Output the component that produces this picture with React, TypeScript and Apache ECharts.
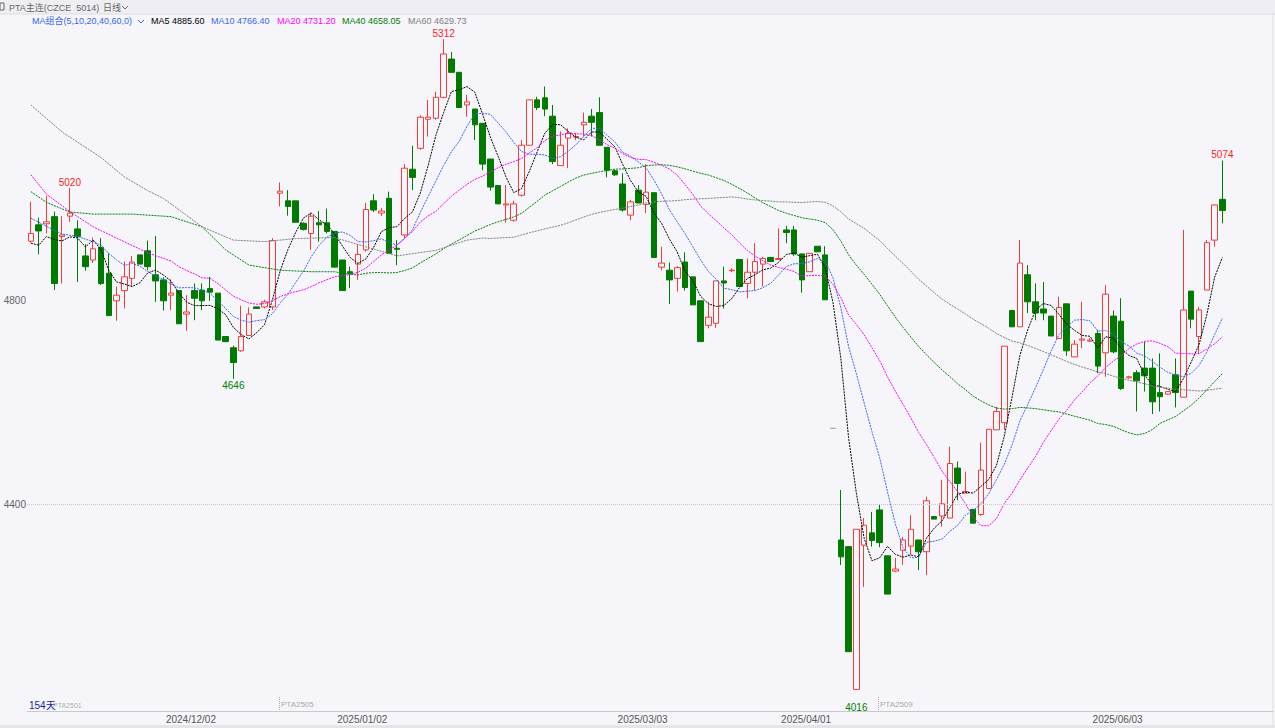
import React, { useEffect, useRef } from 'react';
import * as echarts from 'echarts';

// [open, close, low, high] per trading day
const CANDLES: number[][] = [
  [4916, 4931, 4913, 4993], [4948, 4936, 4890, 4962], [4950, 4954, 4931, 5005], [4964, 4833, 4820, 4974],
  [4925, 4928, 4833, 4965], [4965, 4971, 4954, 5020], [4940, 4925, 4836, 4957], [4887, 4866, 4858, 4910],
  [4879, 4901, 4873, 4923], [4904, 4833, 4830, 4922], [4853, 4770, 4770, 4892], [4799, 4810, 4760, 4827],
  [4819, 4846, 4784, 4876], [4843, 4875, 4827, 4887], [4889, 4871, 4871, 4889], [4897, 4866, 4859, 4917],
  [4850, 4838, 4797, 4926], [4840, 4799, 4780, 4845], [4810, 4814, 4781, 4841], [4819, 4754, 4754, 4820],
  [4773, 4777, 4740, 4810], [4819, 4804, 4761, 4833], [4820, 4799, 4781, 4833], [4823, 4816, 4799, 4846],
  [4814, 4722, 4722, 4814], [4729, 4719, 4718, 4729], [4707, 4678, 4646, 4711], [4701, 4729, 4699, 4789],
  [4731, 4773, 4731, 4786], [4787, 4784, 4784, 4787], [4787, 4797, 4784, 4801], [4787, 4917, 4781, 4922],
  [5010, 5014, 4984, 5031], [4995, 4984, 4966, 5016], [4995, 4953, 4953, 4995], [4951, 4939, 4937, 4953],
  [4931, 4965, 4899, 4972], [4952, 4948, 4915, 4975], [4952, 4935, 4931, 4980], [4935, 4865, 4865, 4935],
  [4879, 4819, 4819, 4879], [4856, 4853, 4824, 4866], [4871, 4890, 4840, 4910], [4899, 4978, 4895, 4991],
  [4995, 4977, 4973, 5008], [4971, 4975, 4965, 4981], [5000, 4892, 4892, 5013], [4902, 4900, 4869, 4918],
  [4928, 5059, 4922, 5067], [5057, 5041, 5016, 5103], [5098, 5159, 5095, 5163], [5155, 5159, 5121, 5193],
  [5157, 5198, 5154, 5209], [5198, 5283, 5196, 5312], [5273, 5247, 5247, 5287], [5247, 5178, 5178, 5247],
  [5183, 5189, 5160, 5203], [5175, 5144, 5114, 5175], [5147, 5067, 5055, 5147], [5077, 5022, 5015, 5077],
  [5025, 4989, 4989, 5025], [4987, 4989, 4952, 5026], [4957, 4989, 4954, 4995], [5006, 5104, 5003, 5114],
  [5104, 5193, 5104, 5193], [5193, 5178, 5173, 5199], [5197, 5175, 5161, 5219], [5161, 5072, 5067, 5183],
  [5064, 5104, 5064, 5131], [5118, 5127, 5059, 5137], [5120, 5121, 5114, 5128], [5144, 5149, 5121, 5168],
  [5161, 5149, 5121, 5175], [5168, 5104, 5104, 5198], [5100, 5055, 5041, 5100], [5054, 5046, 5044, 5056],
  [5028, 4977, 4974, 5049], [4967, 4993, 4957, 4997], [5016, 4991, 4990, 5026], [4988, 5012, 4971, 5067],
  [5011, 4884, 4884, 5011], [4865, 4873, 4859, 4905], [4859, 4840, 4793, 4874], [4843, 4864, 4817, 4867],
  [4875, 4825, 4819, 4894], [4846, 4791, 4791, 4846], [4799, 4719, 4719, 4799], [4751, 4767, 4745, 4797],
  [4755, 4838, 4746, 4838], [4838, 4834, 4784, 4866], [4858, 4859, 4855, 4863], [4880, 4827, 4827, 4880],
  [4833, 4855, 4804, 4882], [4855, 4876, 4819, 4912], [4871, 4882, 4827, 4885], [4884, 4876, 4875, 4885],
  [4880, 4882, 4879, 4941], [4938, 4933, 4912, 4946], [4938, 4891, 4887, 4946], [4891, 4840, 4815, 4891],
  [4856, 4892, 4856, 4892], [4906, 4895, 4895, 4906], [4889, 4801, 4801, 4906], [4549, 4549, 4549, 4549],
  [4330, 4297, 4281, 4428], [4317, 4111, 4111, 4317], [4037, 4351, 4037, 4351], [4320, 4359, 4238, 4373],
  [4344, 4329, 4317, 4385], [4389, 4325, 4316, 4399], [4299, 4224, 4224, 4299], [4269, 4273, 4267, 4295],
  [4310, 4330, 4281, 4336], [4318, 4351, 4301, 4379], [4330, 4307, 4271, 4330], [4307, 4407, 4261, 4415],
  [4376, 4371, 4371, 4376], [4377, 4401, 4356, 4448], [4373, 4480, 4373, 4513], [4471, 4441, 4408, 4484],
  [4422, 4425, 4422, 4464], [4390, 4363, 4363, 4390], [4380, 4467, 4377, 4521], [4431, 4547, 4431, 4547],
  [4546, 4582, 4546, 4591], [4560, 4710, 4546, 4710], [4780, 4748, 4748, 4780], [4748, 4873, 4748, 4918],
  [4850, 4797, 4775, 4869], [4797, 4775, 4761, 4833], [4783, 4775, 4761, 4836], [4769, 4730, 4730, 4769],
  [4725, 4786, 4725, 4807], [4793, 4701, 4691, 4793], [4689, 4714, 4689, 4722], [4722, 4724, 4706, 4797],
  [4720, 4722, 4718, 4726], [4735, 4671, 4657, 4742], [4697, 4812, 4650, 4830], [4769, 4699, 4696, 4780],
  [4759, 4627, 4624, 4804], [4648, 4650, 4646, 4652], [4658, 4642, 4582, 4663], [4667, 4652, 4621, 4719],
  [4667, 4601, 4577, 4686], [4619, 4611, 4582, 4696], [4616, 4621, 4615, 4622], [4654, 4619, 4590, 4686],
  [4610, 4781, 4610, 4938], [4818, 4763, 4745, 4818], [4729, 4781, 4696, 4787], [4820, 4913, 4820, 4918],
  [4918, 4987, 4905, 4987], [4998, 4976, 4951, 5074],
];

// Exchange holidays that fall on weekdays in the window
const HOLIDAYS = [
  '2025-01-01', '2025-01-28', '2025-01-29', '2025-01-30', '2025-01-31', '2025-02-03', '2025-02-04',
  '2025-04-04', '2025-05-01', '2025-05-02', '2025-05-05', '2025-06-02',
];
const FIRST_DAY = '2024-11-01';
const DATE_LABELS = ['2024/12/02', '2025/01/02', '2025/03/03', '2025/04/01', '2025/06/03'];
const PRICE_LABELS = [4400, 4800];
const EMPTY_SLOTS = 6;

// Moving-average values before the window is full
const MA5_HEAD_IDX = [0, 1, 2, 3];
const MA5_HEAD = [4912, 4908, 4925, 4919];
const MA10_HEAD_IDX = [0, 2, 4, 6, 8];
const MA10_HEAD = [4961, 4945, 4930, 4925, 4915];
const MA20_HEAD_IDX = [0, 2, 5, 8, 11, 15, 18];
const MA20_HEAD = [5046, 5008, 4974, 4944, 4922, 4893, 4877];
const MA40_HEAD_IDX = [0, 2, 5, 8, 13, 18, 22, 25, 28, 32, 36, 38];
const MA40_HEAD = [5013, 4992, 4973, 4969, 4969, 4964, 4944, 4899, 4869, 4859, 4856, 4856];
const MA60_HEAD_IDX = [0, 4, 9, 12, 15, 17, 22, 26, 30, 34, 39, 43, 47, 52, 56, 58];
const MA60_HEAD = [5183, 5130, 5080, 5042, 5015, 5000, 4944, 4918, 4915, 4921, 4923, 4905, 4887, 4898, 4918, 4922];

const MA_NAMES = ['MA5', 'MA10', 'MA20', 'MA40', 'MA60'];
const MA_LEGEND_VALUES = ['4885.60', '4766.40', '4731.20', '4658.05', '4629.73'];
const MA_COLORS = ['#000000', '#3d66f2', '#ff00ff', '#008000', '#808080'];

// High / low annotations: candle index, price, text
const EXTREMES = [
  { i: 5, v: 5020, text: '5020', high: true },
  { i: 26, v: 4646, text: '4646', high: false },
  { i: 53, v: 5312, text: '5312', high: true },
  { i: 106, v: 4016, text: '4016', high: false },
  { i: 153, v: 5074, text: '5074', high: true },
];

const FONT = '"Liberation Sans", Arial, "Noto Sans CJK SC", sans-serif';
const UP = '#f03c3c';
const DOWN = '#007a00';
const BG = '#f5f5fa';

function buildDates(n: number): string[] {
  const out: string[] = [];
  const d = new Date(FIRST_DAY + 'T00:00:00Z');
  while (out.length < n) {
    const wd = d.getUTCDay();
    const iso = d.toISOString().slice(0, 10);
    if (wd !== 0 && wd !== 6 && !HOLIDAYS.includes(iso)) out.push(iso.replace(/-/g, '/'));
    d.setUTCDate(d.getUTCDate() + 1);
  }
  return out;
}

function movingAverage(period: number, headIdx: number[], head: number[]) {
  const out: (number | null)[] = new Array(CANDLES.length).fill(null);
  headIdx.forEach((k, j) => { out[k] = head[j]; });
  for (let i = period - 1; i < CANDLES.length; i++) {
    let s = 0;
    for (let k = i - period + 1; k <= i; k++) s += CANDLES[k][1];
    out[i] = +(s / period).toFixed(2);
  }
  return out;
}

export default function App() {
  const ref = useRef<HTMLDivElement>(null);

  useEffect(() => {
    if (!ref.current) return;
    const chart = echarts.init(ref.current, undefined, { renderer: 'svg' });
    const dates = buildDates(CANDLES.length);
    const xData = dates.concat(new Array(EMPTY_SLOTS).fill(''));

    const mas = [
      movingAverage(5, MA5_HEAD_IDX, MA5_HEAD),
      movingAverage(10, MA10_HEAD_IDX, MA10_HEAD),
      movingAverage(20, MA20_HEAD_IDX, MA20_HEAD),
      movingAverage(40, MA40_HEAD_IDX, MA40_HEAD),
      movingAverage(60, MA60_HEAD_IDX, MA60_HEAD),
    ];

    const candleData = CANDLES.map((c) => {
      const flat = c[0] === c[1] && c[1] === c[2] && c[2] === c[3];
      if (flat) {
        return { value: c, itemStyle: { color: '#a8a8a8', color0: '#a8a8a8', borderColor: '#a8a8a8', borderColor0: '#a8a8a8' } };
      }
      return c;
    });

    const legendX = [151, 211, 277, 342, 408];
    const small = `9px ${FONT}`;
    const graphics: any[] = [
      { type: 'rect', shape: { x: 0, y: 0, width: 1275, height: 14 }, style: { fill: '#efeff3' }, silent: true },
      { type: 'line', shape: { x1: 0, y1: 14, x2: 1275, y2: 14 }, style: { stroke: '#dcdce2', lineWidth: 1 }, silent: true },
      { type: 'rect', shape: { x: 0, y: 725, width: 1275, height: 3 }, style: { fill: '#e4e4e9' }, silent: true },
      { type: 'line', shape: { x1: 1273, y1: 14, x2: 1273, y2: 725 }, style: { stroke: '#dcdce2', lineWidth: 1 }, silent: true },
      { type: 'rect', shape: { x: 0, y: 3, width: 4, height: 7 }, style: { fill: 'none', stroke: '#666', lineWidth: 1 } },
      { type: 'text', x: 9, y: 8, style: { text: 'PTA主连(CZCE  5014)', fill: '#666', font: small, textVerticalAlign: 'middle' } },
      { type: 'text', x: 103, y: 8, style: { text: '日线', fill: '#666', font: small, textVerticalAlign: 'middle' } },
      { type: 'polyline', shape: { points: [[122, 6], [125, 9], [128, 6]] }, style: { stroke: '#666', lineWidth: 1, fill: 'none' } },
      { type: 'text', x: 32, y: 21, style: { text: 'MA组合(5,10,20,40,60,0)', fill: '#3d66e6', font: small, textVerticalAlign: 'middle' } },
      { type: 'polyline', shape: { points: [[138, 20], [141, 23], [144, 20]] }, style: { stroke: '#3d66e6', lineWidth: 1, fill: 'none' } },
      ...MA_NAMES.map((n, k) => ({
        type: 'text', x: legendX[k], y: 21,
        style: { text: `${n} ${MA_LEGEND_VALUES[k]}`, fill: MA_COLORS[k], font: small, textVerticalAlign: 'middle' },
      })),
      { type: 'text', x: 29, y: 705, style: { text: '154天', fill: '#1c1ca0', font: `10px ${FONT}`, textVerticalAlign: 'middle' } },
      { type: 'text', x: 53, y: 705, style: { text: 'PTA2501', fill: '#b0b0b0', font: `7px ${FONT}`, textVerticalAlign: 'middle' } },
      { type: 'line', shape: { x1: 279.5, y1: 697, x2: 279.5, y2: 710 }, style: { stroke: '#aaa', lineWidth: 1, lineDash: [1, 1] } },
      { type: 'text', x: 281, y: 704, style: { text: 'PTA2505', fill: '#aaa', font: `8px ${FONT}`, textVerticalAlign: 'middle' } },
      { type: 'line', shape: { x1: 878.5, y1: 697, x2: 878.5, y2: 710 }, style: { stroke: '#aaa', lineWidth: 1, lineDash: [1, 1] } },
      { type: 'text', x: 880, y: 704, style: { text: 'PTA2509', fill: '#aaa', font: `8px ${FONT}`, textVerticalAlign: 'middle' } },
    ];

    chart.setOption({
      animation: false,
      backgroundColor: 'transparent',
      textStyle: { fontFamily: FONT },
      grid: { left: 27, right: 2, top: 33, bottom: 17, containLabel: false },
      xAxis: {
        type: 'category',
        data: xData,
        boundaryGap: true,
        axisLine: { show: true, lineStyle: { color: '#c8c8ce', width: 1 } },
        axisTick: { show: false },
        splitLine: { show: false },
        axisLabel: {
          interval: (_i: number, v: string) => DATE_LABELS.includes(v),
          color: '#555',
          fontSize: 10,
          margin: 3,
          padding: [0, 7, 0, 0],
          fontFamily: FONT,
        },
      },
      yAxis: {
        type: 'value',
        min: 3994.7,
        max: 5324.1,
        scale: true,
        axisLine: { show: false },
        axisTick: { show: false },
        splitLine: { show: false },
        axisLabel: {
          customValues: PRICE_LABELS,
          formatter: (v: number) => String(v),
          color: '#666',
          fontSize: 10,
          margin: 1,
          fontFamily: FONT,
        },
      },
      graphic: graphics,
      series: [
        {
          type: 'candlestick',
          name: 'PTA',
          data: candleData,
          barWidth: 6,
          z: 2,
          itemStyle: { color: 'transparent', color0: DOWN, borderColor: UP, borderColor0: DOWN, borderWidth: 1 },
          markLine: {
            silent: true,
            symbol: 'none',
            label: { show: false },
            lineStyle: { type: 'dotted', color: '#c8c8cc', width: 1 },
            data: [{ yAxis: PRICE_LABELS[0] }],
          },
          markPoint: {
            silent: true,
            data: EXTREMES.map((e) => ({
              coord: [dates[e.i], e.v],
              symbol: 'circle',
              symbolSize: 1,
              itemStyle: { color: 'rgba(0,0,0,0)' },
              label: {
                show: true,
                position: 'inside',
                offset: [0, e.high ? -6 : 7],
                formatter: e.text,
                color: e.high ? '#ff1e1e' : '#008000',
                fontSize: 10,
                fontFamily: FONT,
              },
            })),
          },
        },
        ...mas.map((m, k) => ({
          type: 'line',
          name: MA_NAMES[k],
          data: m,
          showSymbol: false,
          connectNulls: true,
          z: 3,
          lineStyle: { color: MA_COLORS[k], width: 1, type: [2, 1] },
        })),
      ],
    });
    return () => chart.dispose();
  }, []);

  return (
    <div
      ref={ref}
      style={{ position: 'fixed', left: 0, top: 0, width: '1275px', height: '728px', background: BG }}
    />
  );
}
